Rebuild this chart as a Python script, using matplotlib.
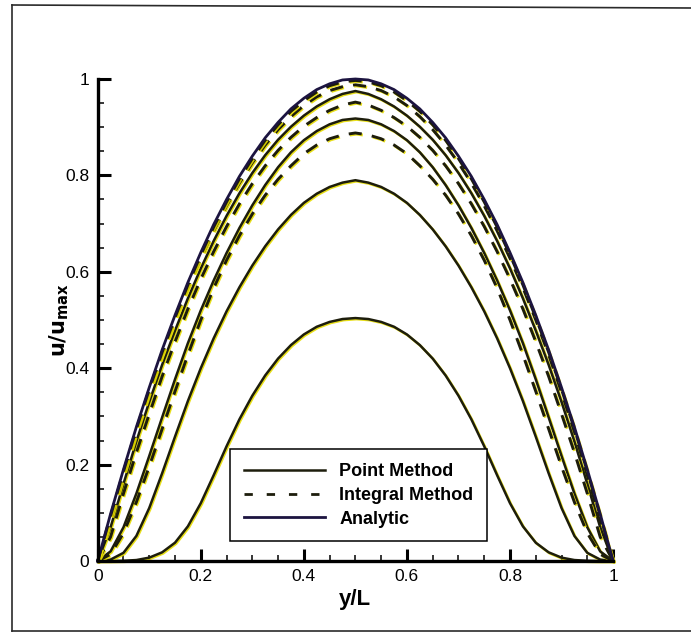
import numpy as np
import matplotlib.pyplot as plt
import matplotlib.patheffects as pe
from matplotlib.lines import Line2D
from matplotlib.ticker import MultipleLocator

plt.rcParams['font.family'] = ['Liberation Sans', 'DejaVu Sans']

# sample positions across the channel
y_L = [0.0, 0.025, 0.05, 0.075, 0.1, 0.125, 0.15, 0.175, 0.2, 0.225, 0.25,
       0.275, 0.3, 0.325, 0.35, 0.375, 0.4, 0.425, 0.45, 0.475, 0.5,
       0.525, 0.55, 0.575, 0.6, 0.625, 0.65, 0.675, 0.7, 0.725, 0.75,
       0.775, 0.8, 0.825, 0.85, 0.875, 0.9, 0.925, 0.95, 0.975, 1.0]

# point method profiles (solid)
point_1 = [0, 0, 0.0005, 0.002, 0.007, 0.018, 0.038, 0.072, 0.12, 0.178, 0.238,
           0.294, 0.343, 0.385, 0.420, 0.448, 0.470, 0.486, 0.496, 0.502, 0.504,
           0.502, 0.496, 0.486, 0.470, 0.448, 0.420, 0.385, 0.343, 0.294, 0.238,
           0.178, 0.12, 0.072, 0.038, 0.018, 0.007, 0.002, 0.0005, 0, 0]
point_2 = [0, 0.003, 0.017, 0.052, 0.110, 0.182, 0.258, 0.332, 0.400, 0.462, 0.518,
           0.568, 0.613, 0.653, 0.688, 0.718, 0.743, 0.762, 0.776, 0.785, 0.790,
           0.785, 0.776, 0.762, 0.743, 0.718, 0.688, 0.653, 0.613, 0.568, 0.518,
           0.462, 0.400, 0.332, 0.258, 0.182, 0.110, 0.052, 0.017, 0.003, 0]
point_3 = [0, 0.020, 0.070, 0.140, 0.218, 0.298, 0.377, 0.452, 0.520, 0.582, 0.639,
           0.691, 0.738, 0.780, 0.817, 0.848, 0.873, 0.892, 0.906, 0.915, 0.918,
           0.915, 0.906, 0.892, 0.873, 0.848, 0.817, 0.780, 0.738, 0.691, 0.639,
           0.582, 0.520, 0.452, 0.377, 0.298, 0.218, 0.140, 0.070, 0.020, 0]
point_4 = [0, 0.070, 0.160, 0.248, 0.330, 0.407, 0.478, 0.545, 0.607, 0.664, 0.716,
           0.763, 0.805, 0.842, 0.874, 0.901, 0.924, 0.943, 0.958, 0.969, 0.975,
           0.969, 0.958, 0.943, 0.924, 0.901, 0.874, 0.842, 0.805, 0.763, 0.716,
           0.664, 0.607, 0.545, 0.478, 0.407, 0.330, 0.248, 0.160, 0.070, 0]

# integral method profiles (dashed)
integral_1 = [0, 0.014, 0.058, 0.122, 0.196, 0.274, 0.352, 0.428, 0.500, 0.566, 0.624,
              0.675, 0.720, 0.759, 0.792, 0.820, 0.845, 0.863, 0.876, 0.884, 0.888,
              0.884, 0.876, 0.863, 0.845, 0.820, 0.792, 0.759, 0.720, 0.675, 0.624,
              0.566, 0.500, 0.428, 0.352, 0.274, 0.196, 0.122, 0.058, 0.014, 0]
integral_2 = [0, 0.050, 0.140, 0.225, 0.305, 0.383, 0.455, 0.523, 0.585, 0.642, 0.694,
              0.741, 0.783, 0.820, 0.852, 0.879, 0.902, 0.920, 0.935, 0.946, 0.952,
              0.946, 0.935, 0.920, 0.902, 0.879, 0.852, 0.820, 0.783, 0.741, 0.694,
              0.642, 0.585, 0.523, 0.455, 0.383, 0.305, 0.225, 0.140, 0.050, 0]
integral_3 = [0, 0.085, 0.178, 0.268, 0.350, 0.428, 0.500, 0.567, 0.628, 0.685, 0.737,
              0.784, 0.826, 0.863, 0.895, 0.922, 0.945, 0.963, 0.976, 0.984, 0.988,
              0.984, 0.976, 0.963, 0.945, 0.922, 0.895, 0.863, 0.826, 0.784, 0.737,
              0.685, 0.628, 0.567, 0.500, 0.428, 0.350, 0.268, 0.178, 0.085, 0]
integral_4 = [0, 0.094, 0.186, 0.274, 0.356, 0.433, 0.505, 0.573, 0.635, 0.693, 0.745,
              0.793, 0.835, 0.873, 0.905, 0.933, 0.955, 0.973, 0.986, 0.994, 0.997,
              0.994, 0.986, 0.973, 0.955, 0.933, 0.905, 0.873, 0.835, 0.793, 0.745,
              0.693, 0.635, 0.573, 0.505, 0.433, 0.356, 0.274, 0.186, 0.094, 0]

# steady analytic profile
analytic = [0, 0.098, 0.190, 0.278, 0.360, 0.438, 0.510, 0.578, 0.640, 0.698, 0.750,
            0.798, 0.840, 0.878, 0.910, 0.938, 0.960, 0.978, 0.990, 0.998, 1.0,
            0.998, 0.990, 0.978, 0.960, 0.938, 0.910, 0.878, 0.840, 0.798, 0.750,
            0.698, 0.640, 0.578, 0.510, 0.438, 0.360, 0.278, 0.190, 0.098, 0]

solid_c = '#1d1d0c'
navy = '#1c1440'
halo = [pe.SimpleLineShadow(offset=(0.8, -0.8), shadow_color='#e6dc00', alpha=0.9),
        pe.Normal()]

fig = plt.figure(figsize=(6.91, 6.37), dpi=100)
ax = fig.add_axes([0.1414, 0.1193, 0.7458, 0.7567])

for u in [point_1, point_2, point_3, point_4]:
    ax.plot(y_L, u, color=solid_c, lw=1.8, path_effects=halo,
            solid_joinstyle='round', clip_on=False)
for u in [integral_1, integral_2, integral_3, integral_4]:
    ax.plot(y_L, u, color=solid_c, lw=2.1, dashes=(4.5, 3.5),
            path_effects=halo, clip_on=False)
ax.plot(y_L, analytic, color=navy, lw=2.0, clip_on=False)

ax.set_xlim(0, 1)
ax.set_ylim(0, 1)
for s in ['top', 'right']:
    ax.spines[s].set_visible(False)
for s in ['left', 'bottom']:
    ax.spines[s].set_linewidth(2.4)
    ax.spines[s].set_color('black')

ax.xaxis.set_major_locator(MultipleLocator(0.2))
ax.xaxis.set_minor_locator(MultipleLocator(0.05))
ax.yaxis.set_major_locator(MultipleLocator(0.2))
ax.yaxis.set_minor_locator(MultipleLocator(0.05))
ax.tick_params(which='both', direction='in', top=False, right=False)
ax.tick_params(which='major', length=9, width=2.2, labelsize=12.5, pad=6)
ax.tick_params(which='minor', length=4.5, width=1.1)
ax.set_xticks([0, 0.2, 0.4, 0.6, 0.8, 1])
ax.set_xticklabels(['0', '0.2', '0.4', '0.6', '0.8', '1'])
ax.set_yticks([0, 0.2, 0.4, 0.6, 0.8, 1])
ax.set_yticklabels(['0', '0.2', '0.4', '0.6', '0.8', '1'])

ax.set_xlabel('y/L', fontsize=16, fontweight='bold', labelpad=3)
ax.set_ylabel(r'$\mathbf{u/u_{max}}$', fontsize=15, labelpad=-4)

handles = [Line2D([], [], color=solid_c, lw=1.8),
           Line2D([], [], color=solid_c, lw=2.0, dashes=(3.0, 5.0)),
           Line2D([], [], color=navy, lw=2.0)]
leg = ax.legend(handles, ['Point Method', 'Integral Method', 'Analytic'],
                loc='lower left', bbox_to_anchor=(0.257, 0.041),
                borderaxespad=0, fancybox=False, framealpha=1,
                edgecolor='black', handlelength=4.5, handletextpad=0.8,
                labelspacing=0.38, borderpad=0.75,
                prop={'weight': 'bold', 'size': 13})
leg.get_frame().set_linewidth(1.1)

# page frame around the figure
frame_c = '#2a2a2a'
fig.add_artist(Line2D([12 / 691, 12 / 691], [1 - 5 / 637, 1 - 631 / 637],
                      transform=fig.transFigure, color=frame_c, lw=1.2))
fig.add_artist(Line2D([12 / 691, 1], [1 - 5 / 637, 1 - 8 / 637],
                      transform=fig.transFigure, color=frame_c, lw=1.2))
fig.add_artist(Line2D([12 / 691, 1], [1 - 631 / 637, 1 - 631 / 637],
                      transform=fig.transFigure, color=frame_c, lw=1.2))

fig.savefig('out.png', dpi=100)
